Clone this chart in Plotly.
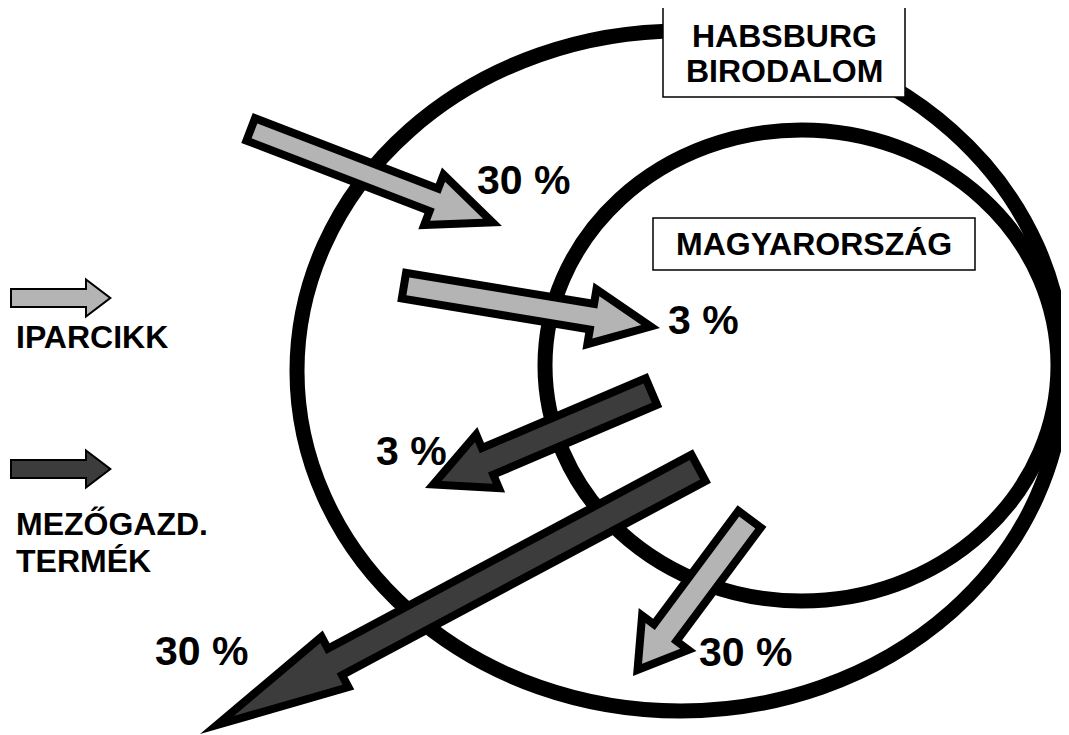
import math
import plotly.graph_objects as go

# ---------------- data ----------------
region_lines = [["HABSBURG", "BIRODALOM"], ["MAGYARORSZÁG"]]
legend_kinds = ["IPARCIKK", "MEZŐGAZD."]
legend_lines = [["IPARCIKK"], ["MEZŐGAZD.", "TERMÉK"]]
flow_share = [30, 3, 3, 30, 30]          # percent of trade flow
flow_kind = ["IPARCIKK", "IPARCIKK", "MEZŐGAZD.", "MEZŐGAZD.", "IPARCIKK"]
flow_labels = [f"{v} %" for v in flow_share]

# ---------------- layout / styling ----------------
W, H = 1069, 735
PAGE_MARGIN = 8  # default <body> margin of the html page
kind_color = {"IPARCIKK": "#b4b4b4", "MEZŐGAZD.": "#3c3c3c"}
FONT = "Liberation Sans, Arial, Helvetica, sans-serif"

ellipses = [  # x0, y0, x1, y1
    (297, 31, 1064, 711),   # Habsburg
    (545, 130, 1058, 601),  # Magyarország
]
region_boxes = [(663, 7, 905, 97), (653, 218, 975, 270)]
region_text_pos = [[(784, 36), (784, 71)], [(814, 244)]]

# arrow geometry: tail(x,y), tip(x,y), shaft width, head width, head length, border
flow_arrows = [
    ((247, 128), (502, 226), 32, 66, 77, 8),
    ((400, 285), (660, 328), 34, 68, 73, 8),
    ((655, 390), (425, 488), 37, 71, 72, 8),
    ((702, 466), (200, 734), 38, 67, 157, 8),
    ((752, 516), (633, 676), 36, 72, 58, 8),
]
flow_label_pos = [(523, 180), (703, 320), (411, 451), (201, 651), (745, 652)]

legend_arrows = [
    ((10, 298), (112, 298), 20, 41, 27, 2),
    ((10, 469), (112, 469), 20, 41, 27, 2),
]
legend_text_pos = [[(14, 337)], [(14, 524), (14, 561)]]


def arrow_points(tail, tip, sw, hw, hl):
    tx, ty = tail
    px, py = tip
    L = math.hypot(px - tx, py - ty)
    ux, uy = (px - tx) / L, (py - ty) / L
    nx, ny = -uy, ux
    bx, by = px - ux * hl, py - uy * hl
    return [
        (tx + nx * sw / 2, ty + ny * sw / 2),
        (bx + nx * sw / 2, by + ny * sw / 2),
        (bx + nx * hw / 2, by + ny * hw / 2),
        (px, py),
        (bx - nx * hw / 2, by - ny * hw / 2),
        (bx - nx * sw / 2, by - ny * sw / 2),
        (tx - nx * sw / 2, ty - ny * sw / 2),
    ]


def inset(pts, d):
    n = len(pts)
    area = sum(pts[i][0] * pts[(i + 1) % n][1] - pts[(i + 1) % n][0] * pts[i][1] for i in range(n))
    s = 1 if area > 0 else -1
    lines = []
    for i in range(n):
        p, q = pts[i], pts[(i + 1) % n]
        ex, ey = q[0] - p[0], q[1] - p[1]
        l = math.hypot(ex, ey)
        ex, ey = ex / l, ey / l
        nx, ny = -ey * s, ex * s
        lines.append(((p[0] + nx * d, p[1] + ny * d), (ex, ey)))
    out = []
    for i in range(n):
        (a1, e1), (a2, e2) = lines[i - 1], lines[i]
        den = e1[0] * e2[1] - e1[1] * e2[0]
        t = ((a2[0] - a1[0]) * e2[1] - (a2[1] - a1[1]) * e2[0]) / den
        out.append((a1[0] + e1[0] * t, a1[1] + e1[1] * t))
    return out


def path_of(pts):
    return "M " + " L ".join(f"{x:.2f},{y:.2f}" for x, y in pts) + " Z"


shapes = []
for x0, y0, x1, y1 in ellipses:
    shapes.append(dict(type="circle", xref="x", yref="y", x0=x0, y0=y0, x1=x1, y1=y1,
                       line=dict(color="black", width=15), fillcolor="rgba(0,0,0,0)"))


def add_arrow(geom, color):
    tail, tip, sw, hw, hl, b = geom
    outer = arrow_points(tail, tip, sw, hw, hl)
    inner = inset(outer, b)
    shapes.append(dict(type="path", xref="x", yref="y", path=path_of(outer),
                       fillcolor="black", line=dict(width=0)))
    shapes.append(dict(type="path", xref="x", yref="y", path=path_of(inner),
                       fillcolor=color, line=dict(width=0)))


for geom, kind in zip(flow_arrows, flow_kind):
    add_arrow(geom, kind_color[kind])
for geom, kind in zip(legend_arrows, legend_kinds):
    add_arrow(geom, kind_color[kind])

for x0, y0, x1, y1 in region_boxes:
    shapes.append(dict(type="rect", xref="x", yref="y", x0=x0, y0=y0, x1=x1, y1=y1,
                       fillcolor="white", line=dict(color="black", width=1.5)))

annotations = []
for lines, poss in zip(region_lines, region_text_pos):
    for txt, (x, y) in zip(lines, poss):
        annotations.append(dict(x=x, y=y, xref="x", yref="y", text=txt, showarrow=False,
                                xanchor="center", yanchor="middle",
                                font=dict(family=FONT, size=32, color="black", weight="bold")))
for lines, poss in zip(legend_lines, legend_text_pos):
    for txt, (x, y) in zip(lines, poss):
        annotations.append(dict(x=x, y=y, xref="x", yref="y", text=txt, showarrow=False,
                                xanchor="left", yanchor="middle",
                                font=dict(family=FONT, size=32, color="black", weight="bold")))
for txt, (x, y) in zip(flow_labels, flow_label_pos):
    annotations.append(dict(x=x, y=y, xref="x", yref="y", text=txt, showarrow=False,
                            xanchor="center", yanchor="middle",
                            font=dict(family=FONT, size=41, color="black", weight="bold")))

m = PAGE_MARGIN
fig = go.Figure()
fig.add_trace(go.Scatter(x=[m, W + m], y=[m, H + m], mode="markers", marker=dict(opacity=0),
                         hoverinfo="skip", showlegend=False))
fig.update_layout(
    width=W, height=H, margin=dict(l=0, r=0, t=0, b=0),
    paper_bgcolor="white", plot_bgcolor="white",
    xaxis=dict(range=[m, W + m], visible=False, fixedrange=True),
    yaxis=dict(range=[H + m, m], visible=False, fixedrange=True),
    shapes=shapes, annotations=annotations, showlegend=False,
)
fig.write_html("out.html")
